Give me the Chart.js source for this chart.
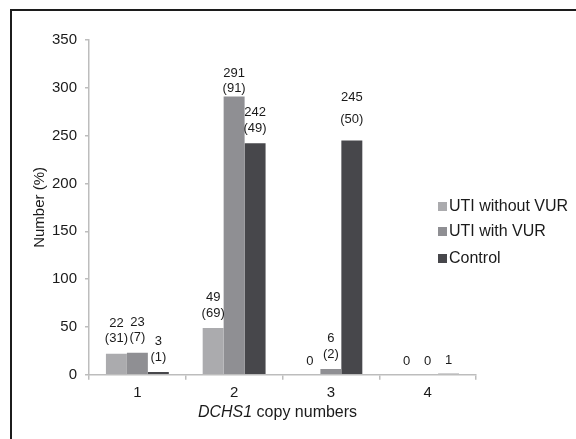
<!DOCTYPE html>
<html>
<head>
<meta charset="utf-8">
<script src="https://cdn.jsdelivr.net/npm/chart.js@4/dist/chart.umd.min.js"></script>
<style>
  html, body { margin: 0; padding: 0; background: #fff; }
  #wrap { position: relative; width: 576px; height: 439px; overflow: hidden; }
  #frame { position: absolute; left: 10px; top: 9px; width: 700px; height: 600px;
           border-top: 2px solid #1c1c1c; border-left: 2px solid #1c1c1c; }
  canvas { position: absolute; left: 0; top: 0; }
</style>
</head>
<body>
<div id="wrap">
  <div id="frame"></div>
  <canvas id="c" width="576" height="439"></canvas>
</div>
<script>
// ---- data ----
const categories = ['1', '2', '3', '4'];
const seriesNames = ['UTI without VUR', 'UTI with VUR', 'Control'];
const utiWithoutVUR = [22, 49, 0, 0];
const utiWithVUR = [23, 291, 6, 0];
const control = [3, 242, 245, 1];
const pctWithoutVUR = [31, 69, null, null];
const pctWithVUR = [7, 91, 2, null];
const pctControl = [1, 49, 50, null];
const yTicks = [0, 50, 100, 150, 200, 250, 300, 350];
const xTitleItalic = 'DCHS1';
const xTitleRest = ' copy numbers';

// ---- styles ----
const colors = ['#ababae', '#8f8f93', '#47474b'];
const FONT = '"Liberation Sans", Arial, Helvetica, sans-serif';
// manual label nudges (pixels) for a few labels, keyed "dataset-index"
const labelNudge = { '1-1': { dy: 7, gap: 15 }, '2-2': { dy: -6, gap: 22 } };

const values = [utiWithoutVUR, utiWithVUR, control];
const pcts = [pctWithoutVUR, pctWithVUR, pctControl];

const dataLabels = {
  id: 'dataLabels',
  afterDatasetsDraw(chart) {
    const ctx = chart.ctx;
    ctx.save();
    ctx.font = '13px ' + FONT;
    ctx.fillStyle = '#1a1a1a';
    ctx.textAlign = 'center';
    ctx.textBaseline = 'middle';
    chart.data.datasets.forEach((ds, i) => {
      const meta = chart.getDatasetMeta(i);
      meta.data.forEach((bar, j) => {
        const v = values[i][j];
        const p = pcts[i][j];
        const n = labelNudge[i + '-' + j] || { dy: 0, gap: 15.5 };
        const top = bar.y;
        if (p === null) {
          ctx.fillText(String(v), bar.x, top - 13 + n.dy);
        } else {
          const y2 = top - 15 + n.dy;
          ctx.fillText('(' + p + ')', bar.x, y2);
          ctx.fillText(String(v), bar.x, y2 - n.gap);
        }
      });
    });
    ctx.restore();
  }
};

const customLegend = {
  id: 'customLegend',
  afterDraw(chart) {
    const ctx = chart.ctx;
    ctx.save();
    ctx.font = '16px ' + FONT;
    ctx.textAlign = 'left';
    ctx.textBaseline = 'middle';
    const rows = [206, 231, 258];
    chart.data.datasets.forEach((ds, i) => {
      const y = rows[i];
      ctx.fillStyle = ds.backgroundColor;
      ctx.fillRect(438, y - 4, 9, 9);
      ctx.fillStyle = '#1a1a1a';
      ctx.fillText(ds.label, 449, y + 1);
    });
    ctx.restore();
  }
};

const xTitle = {
  id: 'xTitle',
  afterDraw(chart) {
    const ctx = chart.ctx;
    const ca = chart.chartArea;
    ctx.save();
    ctx.textBaseline = 'middle';
    ctx.textAlign = 'left';
    ctx.fillStyle = '#1a1a1a';
    ctx.font = 'italic 16px ' + FONT;
    const w1 = ctx.measureText(xTitleItalic).width;
    ctx.font = '16px ' + FONT;
    const w2 = ctx.measureText(xTitleRest).width;
    const cx = (ca.left + ca.right) / 2 - 5;
    const x0 = cx - (w1 + w2) / 2;
    const y = 413;
    ctx.font = 'italic 16px ' + FONT;
    ctx.fillText(xTitleItalic, x0, y);
    ctx.font = '16px ' + FONT;
    ctx.fillText(xTitleRest, x0 + w1, y);
    ctx.restore();
  }
};

new Chart(document.getElementById('c'), {
  type: 'bar',
  data: {
    labels: categories,
    datasets: seriesNames.map((name, i) => ({
      label: name,
      data: values[i],
      backgroundColor: colors[i],
      borderWidth: 0,
      barPercentage: 1.0,
      categoryPercentage: 0.65
    }))
  },
  options: {
    responsive: false,
    animation: false,
    devicePixelRatio: 1,
    layout: { padding: { top: 40, right: 100, left: 31, bottom: 14 } },
    plugins: {
      legend: { display: false },
      tooltip: { enabled: false }
    },
    scales: {
      x: {
        grid: { display: true, drawOnChartArea: false, color: '#bdbdbd', tickLength: 5, lineWidth: 1.5, offset: true },
        border: { display: true, color: '#bdbdbd', width: 1.5 },
        ticks: { color: '#1a1a1a', font: { family: FONT, size: 15 }, padding: 4 },
        title: { display: true, text: xTitleItalic + xTitleRest, color: 'rgba(0,0,0,0)',
                 font: { family: FONT, size: 16 }, padding: { top: 0, bottom: 0 } }
      },
      y: {
        min: 0, max: 350,
        afterBuildTicks(scale) { scale.ticks = yTicks.map(v => ({ value: v })); },
        afterFit(scale) { scale.width = 58; },
        grid: { display: true, drawOnChartArea: false, color: '#bdbdbd', tickLength: 4, lineWidth: 1.5 },
        border: { display: true, color: '#bdbdbd', width: 1.5 },
        ticks: { color: '#1a1a1a', font: { family: FONT, size: 15 }, padding: 8 },
        title: { display: true, text: 'Number (%)', color: '#1a1a1a',
                 font: { family: FONT, size: 15 }, padding: 0 }
      }
    }
  },
  plugins: [dataLabels, customLegend, xTitle]
});
</script>
</body>
</html>
